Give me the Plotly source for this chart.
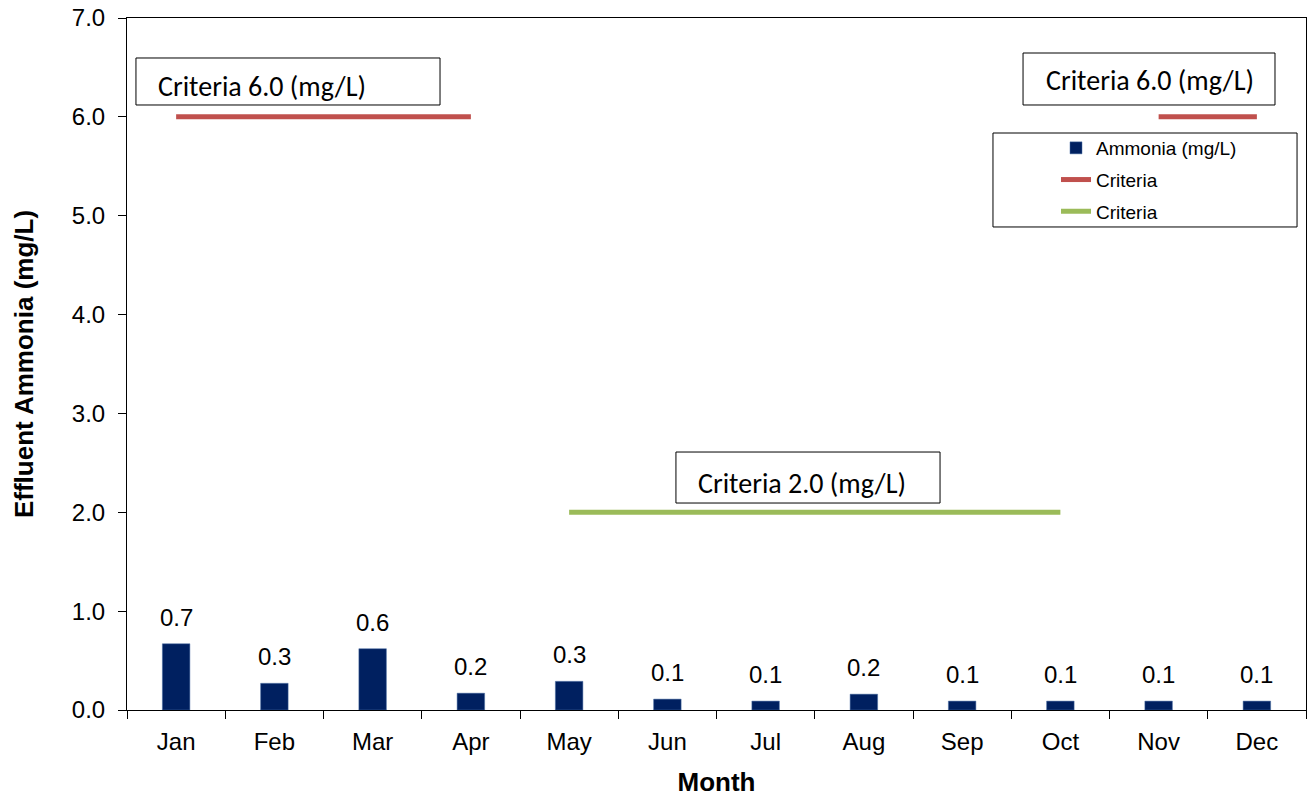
import plotly.graph_objects as go

months = ["Jan", "Feb", "Mar", "Apr", "May", "Jun",
          "Jul", "Aug", "Sep", "Oct", "Nov", "Dec"]
ammonia = [0.67, 0.27, 0.62, 0.17, 0.29, 0.11, 0.09, 0.16, 0.09, 0.09, 0.09, 0.09]

# Seasonal criteria limits (mg/L)
winter_months_a = ["Jan", "Feb", "Mar", "Apr"]
winter_months_b = ["Nov", "Dec"]
winter_limit = 6.0
summer_months = ["May", "Jun", "Jul", "Aug", "Sep", "Oct"]
summer_limit = 2.0

NAVY = "#002060"
RED = "#C0504D"
GREEN = "#9BBB59"
AXIS_FONT = "Arial, Liberation Sans, sans-serif"
BOX_FONT = "Carlito, Lato, Open Sans, sans-serif"

fig = go.Figure()

fig.add_trace(go.Bar(
    x=months, y=ammonia, name="Ammonia (mg/L)",
    marker=dict(color=NAVY, line=dict(color="#4a6fa5", width=0.5)),
    width=0.28, legendgroup="a",
))
fig.add_trace(go.Scatter(
    x=winter_months_a, y=[winter_limit] * len(winter_months_a),
    mode="lines", name="Criteria", line=dict(color=RED, width=5),
    legendgroup="b",
))
fig.add_trace(go.Scatter(
    x=winter_months_b, y=[winter_limit] * len(winter_months_b),
    mode="lines", name="Criteria", line=dict(color=RED, width=5),
    legendgroup="b", showlegend=False,
))
fig.add_trace(go.Scatter(
    x=summer_months, y=[summer_limit] * len(summer_months),
    mode="lines", name="Criteria", line=dict(color=GREEN, width=5),
    legendgroup="c",
))

# Value labels above each bar
for m, v in zip(months, ammonia):
    fig.add_annotation(x=m, y=v, text=f"{v:.1f}", showarrow=False,
                       xanchor="center", yanchor="bottom", yshift=11,
                       font=dict(family=AXIS_FONT, size=24, color="#000"))

# Criteria label boxes (paper coordinates)
boxes = [
    (0.0076, 0.2655, 0.8743, 0.9422, 0.0246, 0.9003, f"Criteria {winter_limit:.1f} (mg/L)"),
    (0.7600, 0.9737, 0.8743, 0.9494, 0.7778, 0.9090, f"Criteria {winter_limit:.1f} (mg/L)"),
    (0.4656, 0.6896, 0.2991, 0.3728, 0.4826, 0.3266, f"Criteria {summer_limit:.1f} (mg/L)"),
]
for x0, x1, y0, y1, tx, ty, label in boxes:
    fig.add_shape(type="rect", xref="paper", yref="paper",
                  x0=x0, x1=x1, y0=y0, y1=y1,
                  line=dict(color="#000", width=1), fillcolor="white", layer="above")
    fig.add_annotation(xref="paper", yref="paper", x=tx, y=ty,
                       xanchor="left", yanchor="middle", showarrow=False,
                       text=label, font=dict(family=BOX_FONT, size=28, color="#000"))

# Legend frame
fig.add_shape(type="rect", xref="paper", yref="paper",
              x0=0.7345, x1=0.9924, y0=0.698, y1=0.8338,
              line=dict(color="#000", width=1), fillcolor="white", layer="above")

fig.update_layout(
    width=1309, height=797,
    margin=dict(l=127, r=3, t=18, b=87),
    paper_bgcolor="white", plot_bgcolor="white",
    legend=dict(
        x=(1056 - 127) / 1179, y=0.8396, xanchor="left", yanchor="top",
        bgcolor="rgba(0,0,0,0)", borderwidth=0,
        font=dict(family=AXIS_FONT, size=19, color="#000"),
        tracegroupgap=4,
    ),
    font=dict(family=AXIS_FONT, color="#000"),
)
fig.update_xaxes(
    type="category", range=[-0.5, 11.5],
    showline=True, linecolor="#000", linewidth=1, mirror=True,
    ticks="outside", tickson="boundaries", ticklen=8, tickcolor="#000",
    ticklabelstandoff=10,
    tickfont=dict(family=AXIS_FONT, size=24, color="#000"),
    showgrid=False,
    title=dict(text="<b>Month</b>", font=dict(family=AXIS_FONT, size=26, color="#000"), standoff=22),
)
fig.update_yaxes(
    range=[0, 7], dtick=1, tickformat=".1f",
    showline=True, linecolor="#000", linewidth=1, mirror=True,
    ticks="outside", ticklen=8, tickcolor="#000",
    ticklabelstandoff=8,
    tickfont=dict(family=AXIS_FONT, size=24, color="#000"),
    showgrid=False, zeroline=False,
    title=dict(text="<b>Effluent Ammonia (mg/L)</b>", font=dict(family=AXIS_FONT, size=26, color="#000"), standoff=30),
)

fig.write_html("out.html")
